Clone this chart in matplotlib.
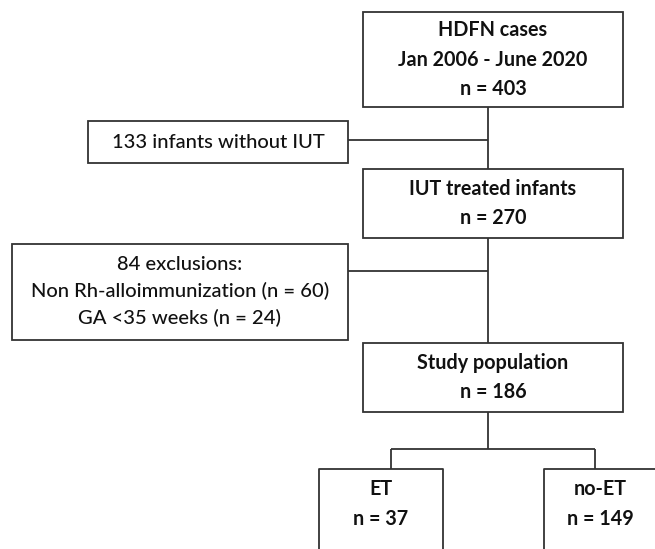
import matplotlib.pyplot as plt
from matplotlib.patches import Rectangle

# counts
n_total = 403
n_without_iut = 133
n_iut = 270
n_excl_nonrh = 60
n_excl_ga = 24
n_study = 186
n_et = 37
n_no_et = 149

plt.rcParams['font.family'] = ['Lato', 'DejaVu Sans']

fig = plt.figure(figsize=(6.55, 5.49), dpi=100)
ax = fig.add_axes([0, 0, 1, 1])
ax.set_xlim(0, 655)
ax.set_ylim(549, 0)
ax.axis('off')

lc = '#333333'
lw = 1.3
fs = 14.5
ls = 1.6


def box(x0, y0, x1, y1, lines, bold):
    ax.add_patch(Rectangle((x0, y0), x1 - x0, y1 - y0, fill=False,
                           edgecolor=lc, linewidth=lw, clip_on=False))
    ax.text((x0 + x1) / 2, (y0 + y1) / 2, '\n'.join(lines), ha='center',
            va='center', fontsize=fs if not bold else 14.2, linespacing=ls,
            fontweight='bold' if bold else 'medium', color='#111111')


def line(xs, ys):
    ax.plot(xs, ys, color=lc, linewidth=lw, solid_capstyle='butt')


box(363, 12, 623, 107, ['HDFN cases', 'Jan 2006 - June 2020', f'n = {n_total}'], True)
box(88, 121, 348, 163, [f'{n_without_iut} infants without IUT'], False)
box(363, 169, 623, 238, ['IUT treated infants', f'n = {n_iut}'], True)
box(12, 244, 348, 340, [f'{n_excl_nonrh + n_excl_ga} exclusions:',
                        f'Non Rh-alloimmunization (n = {n_excl_nonrh})',
                        f'GA <35 weeks (n = {n_excl_ga})'], False)
box(363, 343, 623, 412, ['Study population', f'n = {n_study}'], True)

# ET boxes run past the bottom edge
ax.plot([319, 319, 443, 443], [560, 469, 469, 560], color=lc, linewidth=lw)
ax.text(381, 504, f'ET\nn = {n_et}', ha='center', va='center', fontsize=14.2,
        linespacing=ls, fontweight='bold', color='#111111')
ax.plot([544, 544, 660], [560, 469, 469], color=lc, linewidth=lw)
ax.text(600, 504, f'no-ET\nn = {n_no_et}', ha='center', va='center', fontsize=14.2,
        linespacing=ls, fontweight='bold', color='#111111')

# connectors
line([488, 488], [107, 169])
line([348, 488], [140, 140])
line([488, 488], [238, 343])
line([348, 488], [271, 271])
line([488, 488], [412, 449])
line([391, 595], [449, 449])
line([391, 391], [449, 469])
line([595, 595], [449, 469])

fig.savefig('out.png', dpi=100, facecolor='white')
